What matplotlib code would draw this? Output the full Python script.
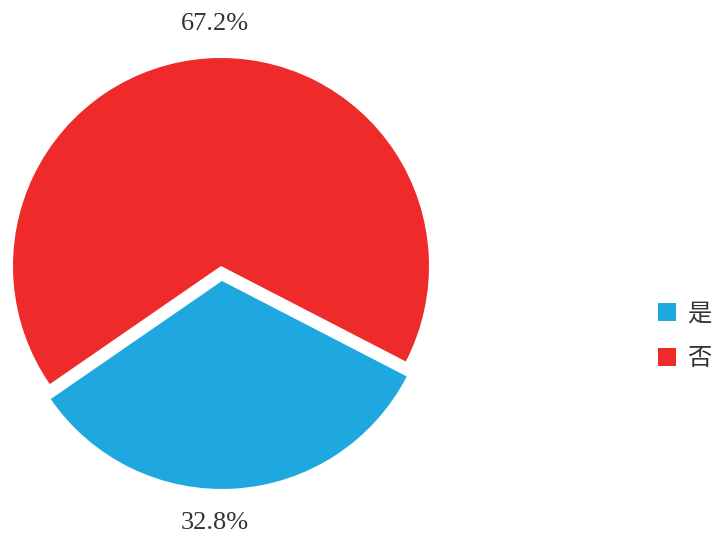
import numpy as np
import matplotlib
matplotlib.use("Agg")
import matplotlib.pyplot as plt

# データ
labels = ['是', '否']
values = [32.8, 67.2]
pct_labels = ['32.8%', '67.2%']
colors = ['#1fa8df', '#ee2a2a']

plt.rcParams['font.family'] = ['Noto Sans CJK SC', 'DejaVu Sans']

fig = plt.figure(figsize=(7.13, 5.35), dpi=100)
ax = fig.add_axes([0, 0, 1, 1])

R = 208.0  # 半径(px)
cx, cy = 221.0, 266.0  # 中心(px)
ax.axis('off')

explode = [15 / R, 0]
wedges, _ = ax.pie(values, colors=colors, startangle=-145.4, counterclock=True,
                   explode=explode, radius=1.0, center=(0, 0),
                   wedgeprops=dict(linewidth=0), frame=False)
ax.set_xlim(-cx / R, (713 - cx) / R)
ax.set_ylim(-(535 - cy) / R, cy / R)
ax.set_aspect('auto')

# ラベル（上下）
for w, txt in zip(wedges, pct_labels):
    mid = np.deg2rad((w.theta1 + w.theta2) / 2)
    wx, wy = w.center
    y = wy + np.sign(np.sin(mid)) * 1.163
    ax.text(-0.03, y, txt, ha='center', va='center', fontsize=19,
            family=['Liberation Serif', 'DejaVu Serif'], color='#333333')

leg = fig.legend(wedges, labels, loc='center left', bbox_to_anchor=(658 / 713, 1 - 336 / 535),
                 frameon=False, fontsize=17.5, handlelength=0.74, handleheight=0.74,
                 handletextpad=0.45, labelspacing=0.78, borderaxespad=0, borderpad=0)
for t in leg.get_texts():
    t.set_color('#333333')

fig.savefig('out.png', dpi=100)
